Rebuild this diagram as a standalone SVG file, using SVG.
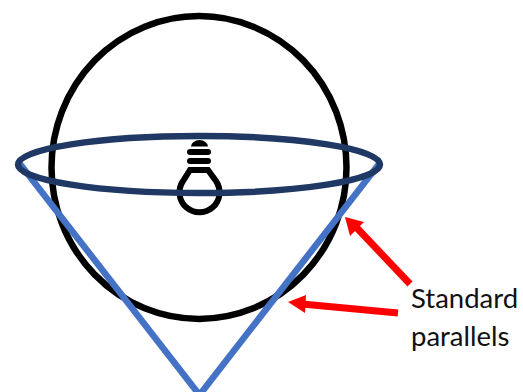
<svg xmlns="http://www.w3.org/2000/svg" width="523" height="392" viewBox="0 0 523 392">
<style>
.arrow{stroke:#ff0000;stroke-width:7;fill:none}
.head{fill:#ff0000}
.lbl{font-family:"Lato","Open Sans","Liberation Sans",sans-serif;font-size:27.500px;fill:#111}
</style>
<rect width="523" height="392" fill="#fff"/>
<g id="globe"><ellipse cx="199" cy="167.500" rx="147.500" ry="151.500" fill="none" stroke="#000" stroke-width="6.500"/></g>
<g id="bulb" fill="none" stroke="#000">
<path d="M191 146.500a8.500 6.500 0 0 1 17 0z" fill="#000" stroke="none"/>
<rect x="187" y="149" width="24" height="6" rx="3" fill="#000" stroke="none"/>
<rect x="187" y="158" width="24" height="6" rx="3" fill="#000" stroke="none"/>
<path d="M190 170h18l8 11a20 20 0 1 1-33 0z" stroke-width="6"/>
</g>
<g id="cone"><path d="M20 164L199.500 395L379 164" fill="none" stroke="#4472c4" stroke-width="6.500"/></g>
<g id="parallel"><ellipse cx="199" cy="164.500" rx="181" ry="28.500" fill="none" stroke="#1f3864" stroke-width="6.500"/></g>
<g id="connectors">
<line class="arrow" x1="410" y1="284" x2="356" y2="227"/>
<polygon class="head" points="345,217 364,222 350,236"/>
<line class="arrow" x1="398" y1="313" x2="302" y2="304"/>
<polygon class="head" points="288,302 306,295 305,313"/>
</g>
<g id="label">
<text class="lbl" x="411" y="307.500">Standard</text>
<text class="lbl" x="411" y="346">parallels</text>
</g>
</svg>
